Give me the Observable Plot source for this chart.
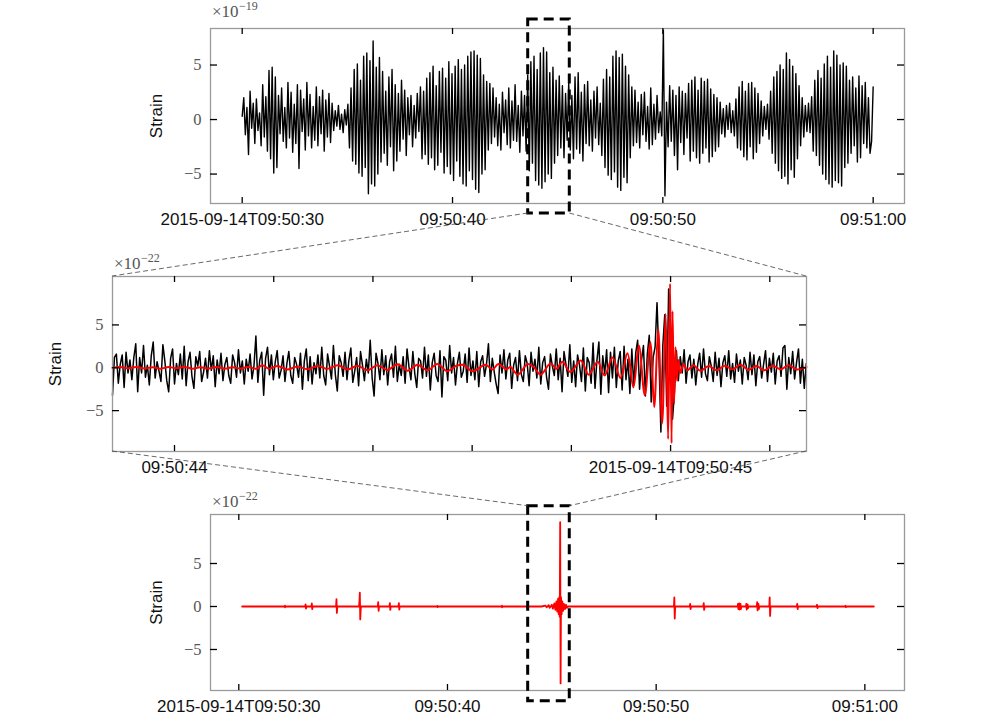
<!DOCTYPE html>
<html><head><meta charset="utf-8">
<script src="https://cdn.jsdelivr.net/npm/d3@7"></script>
<script src="https://cdn.jsdelivr.net/npm/@observablehq/plot@0.6"></script>
<style>
body{margin:0;background:#fff;}
#wrap{position:relative;width:994px;height:720px;overflow:hidden;background:#fff;}
#wrap svg{position:absolute;left:0;}
</style></head><body><div id="wrap"></div>
<script>
// ---------------- DATA ----------------
// Top panel: raw strain (x1e-19), uniform samples starting 09:50:30
const topStart = 30, topStep = 0.075;
const topStrain = [
0.3,2.0,-1.4,1.1,-3.2,2.6,-0.8,1.5,-2.2,1.9,
-1.0,0.6,-2.4,3.2,-1.6,2.1,-2.9,4.5,-3.6,4.8,
-4.9,3.9,-4.4,2.2,-1.3,2.9,-2.0,1.1,-2.6,3.4,
-1.7,2.5,-3.0,1.4,-2.2,3.2,-4.5,2.7,-1.1,1.9,
-2.8,3.4,-1.5,2.3,-2.6,1.2,-1.9,3.0,-2.4,2.1,
-1.3,2.7,-2.9,1.8,-1.6,2.4,-2.1,1.5,-1.0,0.8,
-0.6,1.3,-0.9,0.5,-1.2,0.9,-0.5,1.4,-2.6,2.9,
-3.8,4.6,-4.1,5.1,-4.9,3.6,-5.2,5.8,-4.4,6.1,
-6.8,5.4,-5.9,7.2,-6.1,4.8,-5.0,5.7,-3.9,4.4,
-3.1,2.6,-4.2,3.9,-2.5,4.6,-4.7,3.2,-3.8,2.4,
-2.9,3.6,-1.8,2.7,-3.3,2.0,-1.4,2.2,-2.5,1.3,
-1.7,2.4,-1.1,3.0,-3.6,2.6,-3.2,3.8,-4.1,4.3,
-3.5,4.9,-4.6,3.1,-4.2,4.4,-3.0,4.7,-4.9,3.8,
-4.3,5.3,-5.0,4.2,-5.6,4.9,-3.8,5.5,-5.2,4.6,
-5.9,5.0,-6.1,5.8,-4.7,6.2,-5.5,6.3,-6.4,5.9,
-6.7,5.6,-5.0,4.1,-4.6,3.5,-2.8,3.3,-2.2,2.9,
-1.6,2.0,-2.4,1.4,-2.8,2.5,-1.2,1.8,-2.3,2.9,
-2.6,1.7,-1.9,3.2,-2.0,1.3,-3.0,2.6,-1.5,2.2,
-2.9,4.1,-4.7,5.3,-4.0,5.8,-5.6,4.6,-6.0,6.1,
-6.3,6.6,-5.7,6.2,-5.0,4.3,-5.4,4.8,-4.0,3.6,
-3.3,4.0,-2.6,3.1,-3.5,2.4,-1.9,3.4,-2.8,2.2,
-3.6,3.9,-2.7,4.3,-3.1,2.5,-3.8,3.2,-2.2,3.5,
-2.4,1.8,-2.9,2.6,-1.7,3.0,-2.3,1.5,-3.3,3.7,
-4.4,4.6,-5.1,3.9,-5.5,5.8,-4.8,6.3,-6.2,5.7,
-6.5,6.0,-5.3,4.9,-5.8,4.1,-3.5,3.0,-2.4,2.7,
-2.1,1.6,-2.6,2.3,-1.4,2.5,-2.0,1.2,-2.7,2.9,
-2.3,1.4,-1.8,2.2,-1.2,0.7,-1.5,8.2,-7.0,1.6,
-2.5,3.1,-2.0,2.7,-3.3,2.2,-4.6,3.0,-2.1,2.6,
-3.2,2.4,-1.7,3.3,-3.8,3.6,-2.9,3.9,-3.5,2.7,
-4.0,3.8,-3.1,3.5,-2.6,3.7,-3.9,2.8,-3.4,2.3,
-2.9,2.0,-2.5,1.6,-1.3,1.0,-1.6,1.3,-0.9,1.5,
-1.2,0.8,-1.5,1.9,-2.6,3.0,-2.8,3.5,-3.4,2.6,
-3.7,3.3,-2.5,3.4,-3.6,2.9,-3.0,2.4,-2.2,1.7,
-1.5,1.2,-0.9,1.4,-1.8,2.6,-3.1,3.9,-4.0,4.4,
-4.7,5.0,-5.4,4.6,-5.2,6.1,-5.9,5.5,-4.6,4.9,
-5.3,4.2,-3.6,3.1,-2.4,2.0,-1.6,1.3,-1.1,1.5,
-1.2,2.1,-2.9,3.6,-3.3,4.5,-4.2,3.8,-5.0,5.1,
-5.5,5.8,-5.9,4.8,-6.2,6.3,-5.6,5.9,-5.8,5.0,
-6.1,5.2,-4.4,4.9,-4.0,3.6,-3.1,3.9,-2.4,2.9,
-3.9,4.0,-3.5,3.1,-2.2,3.4,-2.6,2.0,-3.1,-2.0,
3.0
];

// Middle panel: whitened strain (black, x1e-22), uniform samples starting 43.875 s
const midStart = 43.875, midStep = 1 / 256;
const midStrain = [
-3.2,1.2,1.6,-1.8,0.4,1.5,-2.3,1.8,-0.6,0.9,
-1.4,1.2,2.8,-2.8,1.2,-0.6,2.6,-1.1,0.3,-2.0,
1.4,3.0,-1.2,0.7,-0.4,-1.6,2.7,0.8,-1.5,-2.8,
1.1,2.2,-1.9,0.5,-0.8,1.6,-1.3,2.5,-2.1,0.7,
1.8,-1.0,-2.4,1.3,0.2,1.9,-1.6,-0.5,1.1,-1.2,
2.0,-0.3,1.4,-2.2,0.9,-0.7,1.7,-1.5,0.4,1.2,
-0.9,-1.8,1.5,0.6,-1.1,2.1,-0.6,0.8,-1.9,1.0,
-0.4,1.6,-1.3,0.2,3.7,-1.7,0.9,1.8,-3.2,1.1,
2.4,-0.8,1.5,-1.4,0.7,2.0,-1.2,-0.3,1.4,-1.6,
0.5,1.9,-0.9,-1.8,1.2,0.4,-1.1,1.7,-2.5,0.8,
2.2,-1.5,1.3,-1.9,0.6,-0.7,1.5,-1.2,2.4,-0.9,
-2.0,1.6,0.2,-1.3,2.6,-0.8,-2.7,1.4,0.6,-1.0,
1.8,-1.4,0.9,2.3,-1.7,-0.4,1.2,-2.1,1.9,0.3,
-1.5,1.0,-0.6,3.2,-1.2,-3.3,1.7,0.5,-1.4,2.1,
-0.8,1.4,-2.0,0.7,1.6,-1.1,2.5,-1.6,0.4,-0.9,
1.3,-1.8,2.2,0.1,-1.4,1.9,-0.7,-2.3,1.1,0.8,
-1.2,2.4,-1.0,1.5,-2.6,0.6,1.7,-0.9,-1.6,2.0,
-3.4,1.3,0.9,-1.5,2.6,-0.6,1.2,-2.0,0.5,1.8,
-1.1,-0.4,1.6,-1.7,2.3,-0.9,0.8,-1.4,1.9,-2.2,
0.7,1.4,-1.0,0.4,2.8,-1.6,1.1,-0.5,-1.9,-3.0,
1.5,-0.6,2.1,-1.3,0.9,1.7,-2.4,0.3,1.2,-1.5,
2.0,-0.8,-1.6,1.4,0.5,-2.1,1.8,-0.4,1.0,-1.2,
2.4,-1.9,0.6,1.3,-1.1,-2.5,1.6,0.2,-0.9,2.2,
-1.4,1.1,-2.8,1.9,0.4,-1.0,2.7,-1.7,0.8,-2.2,
1.5,0.3,-1.6,2.3,-2.7,1.2,0.6,-1.8,2.9,-2.4,
0.9,3.0,-3.1,1.4,-0.7,2.1,-2.9,1.8,-1.2,2.4,
-2.3,0.8,1.9,-2.6,2.5,-1.4,1.0,-3.0,2.2,-2.0,
1.7,3.2,-2.5,0.9,2.6,-3.3,1.6,3.8,-4.0,1.2,
2.4,7.6,1.2,-7.5,2.6,6.2,-4.5,9.2,4.0,-6.0,
-2.8,2.0,-1.5,1.3,-0.6,2.1,-1.8,0.7,1.5,-1.2,
1.0,-2.0,0.4,1.7,-1.1,2.2,-0.7,-1.5,1.3,0.2,
-1.6,1.8,-0.9,1.1,-2.2,0.6,1.4,-1.0,2.0,-1.3,
0.5,-1.7,1.6,-0.4,0.9,-1.9,1.2,0.3,-1.4,1.8,
-0.8,1.5,-2.1,0.7,1.3,-1.2,0.4,2.0,-1.6,1.1,
-0.5,1.7,-1.9,0.8,1.4,-1.0,2.3,2.6,-2.5,1.2,
-0.7,1.9,-1.3,0.6,2.2,-1.8,1.0,-2.4,0.5
];

// Middle panel: template (red), time in seconds after 09:50:00, strain x1e-22
const templateTime = [
43.875,43.891,43.907,43.923,43.940,43.956,43.972,43.988,44.004,44.020,
44.036,44.052,44.069,44.085,44.101,44.117,44.133,44.149,44.165,44.177,
44.190,44.208,44.228,44.248,44.268,44.288,44.308,44.329,44.349,44.369,
44.389,44.409,44.429,44.450,44.470,44.490,44.510,44.530,44.550,44.567,
44.581,44.601,44.627,44.641,44.653,44.669,44.677,44.692,44.712,44.724,
44.738,44.758,44.770,44.782,44.798,44.819,44.835,44.853,44.867,44.883,
44.899,44.913,44.925,44.936,44.948,44.959,44.967,44.975,44.983,44.990,
44.995,44.999,45.002,45.004,45.007,45.010,45.013,45.016,45.020,45.026,
45.034,45.046,45.060,45.077,45.093,45.109,45.125,45.141,45.157,45.173,
45.189,45.206,45.222,45.238,45.254,45.274
];
const templateStrain = [
0.0,0.08,-0.05,0.1,-0.08,0.05,-0.1,0.08,-0.05,0.1,
-0.1,0.05,-0.08,0.1,-0.1,0.06,-0.08,0.1,-0.12,0.3,
-0.1,0.2,-0.2,0.15,-0.18,0.22,-0.12,0.28,-0.2,0.25,
-0.3,0.3,-0.25,0.4,-0.35,0.35,-0.3,0.45,-0.4,0.2,
0.35,-0.4,0.35,-0.2,0.45,-0.2,0.1,-0.8,0.45,0.1,
-0.8,0.5,-0.1,0.7,-0.5,0.85,-0.8,0.7,-0.9,1.2,
-1.2,1.7,-2.3,2.6,-3.2,3.0,-4.6,4.5,-6.5,6.3,
-8.3,9.8,-8.8,6.6,-4.2,2.4,-1.5,0.9,-0.6,0.4,
-0.3,0.3,-0.35,0.2,-0.3,0.25,-0.2,0.35,-0.25,0.2,
-0.3,0.25,-0.2,0.3,-0.2,0.1
];

// Bottom panel: template bank output (red), time s after 09:50:00, strain x1e-22
const bottomTime = [
30.16,31.5,32.2,32.21,32.22,32.24,
33.18,33.2,33.22,33.24,33.48,33.5,33.52,33.54,
34.66,34.68,34.70,34.72,
35.76,35.78,35.8,35.82,35.84,35.86,
36.66,36.68,36.7,36.72,37.22,37.24,37.26,37.28,37.65,37.67,37.69,37.71,
39.5,39.51,39.52,39.53,42.6,42.61,42.62,42.63,
44.5,44.7,44.75,44.85,44.9,45.0,45.05,45.12,45.17,45.22,45.26,45.3,45.33,45.36,45.38,
45.40,45.42,45.44,45.47,45.5,45.54,45.58,45.63,45.68,45.72,45.78,
50.85,50.87,50.89,50.91,51.61,51.63,51.65,51.67,52.26,52.28,52.3,52.32,
53.9,53.92,53.94,53.98,54.0,54.04,54.06,54.08,
54.3,54.32,54.34,54.38,54.4,54.42,
54.82,54.84,54.86,54.9,54.92,54.94,
55.42,55.44,55.46,55.48,56.74,56.76,56.78,56.8,
57.69,57.71,57.73,57.75,59.05,59.07,59.09,59.11,60.43
];
const bottomStrain = [
0,0,0,0.1,-0.1,0,
0,0.25,-0.25,0,0,0.35,-0.3,0,
0,0.85,-0.75,0,
0,0.5,1.6,-1.5,-0.4,0,
0,0.5,-0.5,0,0,0.4,-0.4,0,0,0.4,-0.35,0,
0,0.08,-0.08,0,0,0.1,-0.1,0,
0,0.1,-0.1,0.15,-0.15,0.2,-0.25,0.35,-0.4,0.6,-0.6,0.9,-0.9,1.1,-1.2,
9.8,-8.95,1.1,-0.9,0.6,-0.5,0.3,-0.3,0.2,-0.15,0,
0,1.05,-1.4,0,0,0.3,-0.3,0,0,0.4,-0.4,0,
0,0.3,-0.3,0.35,-0.35,0.3,-0.3,0,
0,0.3,-0.35,0.25,-0.2,0,
0,0.5,-0.45,0.3,-0.3,0,
0,1.05,-1.1,0,0,0.3,-0.3,0,
0,0.2,-0.2,0,0,0.08,-0.08,0,0
];

// Axis ticks and labels
const yTicks = [-5, 0, 5];
const yTickLabels = ["−5", "0", "5"];
const fullTicks = [30, 40, 50, 60];
const fullTickLabels = ["2015-09-14T09:50:30", "09:50:40", "09:50:50", "09:51:00"];
const midTicks = [44.0, 44.2, 44.4, 44.6, 44.8, 45.0, 45.2];
const midLabelTicks = [44, 45];
const midTickLabels = ["09:50:44", "2015-09-14T09:50:45"];
const yLabel = "Strain";
const expBase = "×10";
const exponents = ["−19", "−22", "−22"];

// Zoom windows (data coordinates of the dashed boxes)
const topBox = {t1: 43.598, t2: 45.576, v1: -8.62, v2: 9.17};
const bottomBox = {t1: 43.867, t2: 45.86, v1: -11.01, v2: 11.66};

// ---------------- LAYOUT ----------------
const W = 994, H = 240;
const sans = "Liberation Sans, Arial, Helvetica, sans-serif";
const serif = "Liberation Serif, DejaVu Serif, serif";
const wrap = document.getElementById("wrap");

function panel(cfg) {
  const fh = H - cfg.mt - cfg.mb, fw = W - cfg.ml - cfg.mr;
  const chart = Plot.plot({
    width: W, height: H,
    marginLeft: cfg.ml, marginRight: cfg.mr, marginTop: cfg.mt, marginBottom: cfg.mb,
    x: {domain: cfg.xDomain, axis: null},
    y: {domain: cfg.yDomain, axis: null},
    style: {fontFamily: sans, background: "transparent", overflow: "visible"},
    marks: [
      ...cfg.marks,
      Plot.frame({stroke: "#9a9a9a", strokeWidth: 1.3}),
      Plot.tickX(cfg.xTicks, {x: d => d, insetBottom: fh - 6, stroke: "#000", strokeWidth: 1.3}),
      Plot.tickX(cfg.xTicks, {x: d => d, insetTop: fh - 6, stroke: "#000", strokeWidth: 1.3}),
      Plot.tickY(yTicks, {y: d => d, insetRight: fw - 7, stroke: "#000", strokeWidth: 1.3}),
      Plot.tickY(yTicks, {y: d => d, insetLeft: fw - 7, stroke: "#000", strokeWidth: 1.3}),
      Plot.text(cfg.labelTicks, {x: d => d, text: (d, i) => cfg.labels[i], frameAnchor: "bottom",
        dy: cfg.labelDy, lineAnchor: "middle", fontSize: 17, fill: "#111", fontFamily: sans}),
      Plot.text(yTicks, {y: d => d, text: (d, i) => yTickLabels[i], frameAnchor: "left", dx: -9,
        textAnchor: "end", lineAnchor: "middle", fontSize: 16.5, fill: "#555", fontFamily: serif}),
      Plot.text([yLabel], {text: d => d, frameAnchor: "left", dx: cfg.strainDx, rotate: -90,
        textAnchor: "middle", lineAnchor: "middle", fontSize: 17, fill: "#111", fontFamily: sans}),
      // exponent label "×10^-n" above the top-left corner
      Plot.text([expBase], {text: d => d, frameAnchor: "top-left", dx: 1.5, dy: -cfg.expGap,
        textAnchor: "start", lineAnchor: "bottom", fontSize: 17, fill: "#555", fontFamily: serif}),
      Plot.text([cfg.exponent], {text: d => d, frameAnchor: "top-left", dx: 28.5, dy: -cfg.expGap - 7,
        textAnchor: "start", lineAnchor: "bottom", fontSize: 12, fill: "#555", fontFamily: serif}),
      ...(cfg.after || [])
    ]
  });
  chart.style.top = cfg.top + "px";
  wrap.appendChild(chart);
  return chart;
}

const topChart = panel({
  top: 0, ml: 210, mr: 90, mt: 28, mb: 37, expGap: 11.3, exponent: exponents[0],
  xDomain: [28.493, 61.49], yDomain: [-7.7, 8.35],
  xTicks: fullTicks, labelTicks: fullTicks, labels: fullTickLabels, labelDy: 16, strainDx: -54,
  marks: [
    Plot.line(topStrain, {x: (d, i) => topStart + i * topStep, y: d => d, stroke: "#000", strokeWidth: 1.4})
  ],
  after: [
    Plot.rect([topBox], {x1: "t1", x2: "t2", y1: "v1", y2: "v2", fill: "none", stroke: "#000",
      strokeWidth: 3, strokeDasharray: "10,6"})
  ]
});

const midChart = panel({
  top: 240, ml: 112, mr: 188, mt: 36, mb: 29, expGap: 7.7, exponent: exponents[1],
  xDomain: [43.875, 45.274], yDomain: [-9.77, 10.65],
  xTicks: midTicks, labelTicks: midLabelTicks, labels: midTickLabels, labelDy: 16.5, strainDx: -56.5,
  marks: [
    Plot.line(midStrain, {x: (d, i) => midStart + i * midStep, y: d => d, stroke: "#000", strokeWidth: 1.5}),
    Plot.line(templateTime.map((t, i) => [t, templateStrain[i]]), {x: d => d[0], y: d => d[1],
      stroke: "#ff0000", strokeWidth: 2, curve: "catmull-rom"})
  ]
});

const botChart = panel({
  top: 480, ml: 210, mr: 90, mt: 34, mb: 30, expGap: 7.6, exponent: exponents[2],
  xDomain: [28.644, 61.9], yDomain: [-9.77, 10.7],
  xTicks: fullTicks, labelTicks: fullTicks, labels: fullTickLabels, labelDy: 16.5, strainDx: -54,
  marks: [
    Plot.line(bottomTime.map((t, i) => [t, bottomStrain[i]]), {x: d => d[0], y: d => d[1],
      stroke: "#ff0000", strokeWidth: 1.8})
  ],
  after: [
    Plot.rect([bottomBox], {x1: "t1", x2: "t2", y1: "v1", y2: "v2", fill: "none", stroke: "#000",
      strokeWidth: 3, strokeDasharray: "10,6"})
  ]
});

// ---------------- OVERLAY (zoom connectors) ----------------
const tx = topChart.scale("x"), ty = topChart.scale("y");
const mx = midChart.scale("x"), my = midChart.scale("y");
const bx = botChart.scale("x"), by = botChart.scale("y");
const offs = [0, 240, 480];

const ov = d3.create("svg").attr("width", W).attr("height", 720)
  .style("top", "0px").style("pointer-events", "none");

const midL = mx.range[0], midR = mx.range[1];
const midTop = offs[1] + my.apply(my.domain[1]), midBot = offs[1] + my.apply(my.domain[0]);
const topBoxBottom = offs[0] + ty.apply(topBox.v1);
const botBoxTop = offs[2] + by.apply(bottomBox.v2);
const connectors = [
  [tx.apply(topBox.t1), topBoxBottom, midL, midTop],
  [tx.apply(topBox.t2), topBoxBottom, midR, midTop],
  [midL, midBot, bx.apply(bottomBox.t1), botBoxTop],
  [midR, midBot, bx.apply(bottomBox.t2), botBoxTop]
];
ov.selectAll("line").data(connectors).join("line")
  .attr("x1", d => d[0]).attr("y1", d => d[1]).attr("x2", d => d[2]).attr("y2", d => d[3])
  .attr("stroke", "#444").attr("stroke-width", 0.8).attr("stroke-dasharray", "5,3");

wrap.appendChild(ov.node());
</script></body></html>
